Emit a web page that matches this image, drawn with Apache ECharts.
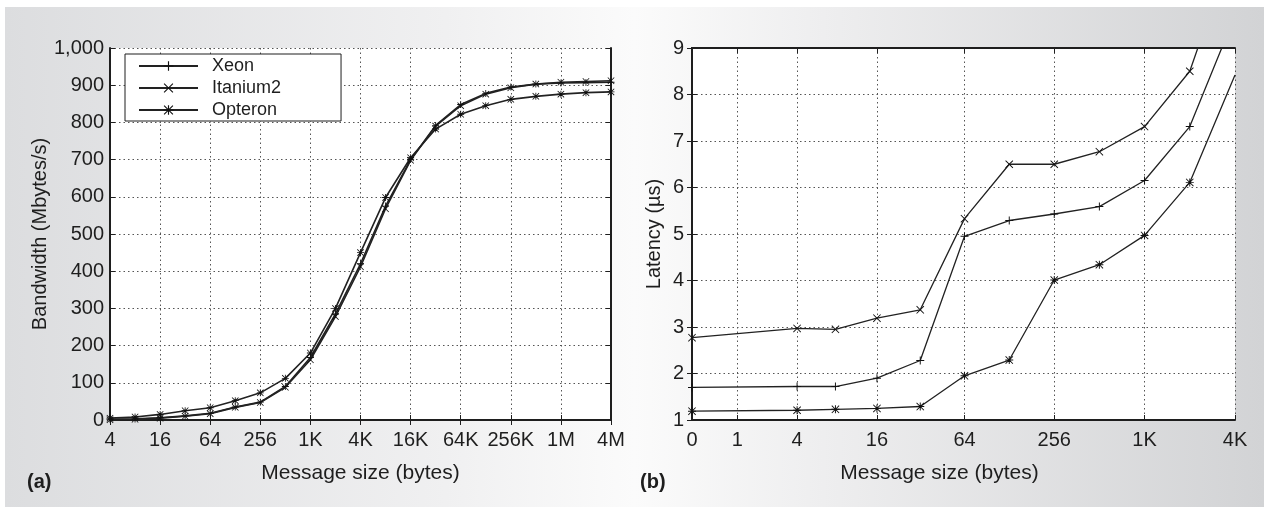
<!DOCTYPE html>
<html>
<head>
<meta charset="utf-8">
<script src="https://cdn.jsdelivr.net/npm/echarts@6/dist/echarts.min.js"></script>
<style>
  html, body { margin: 0; padding: 0; background: #ffffff; }
  #bg { position: absolute; left: 5px; top: 7px; width: 1259px; height: 500px;
        background: linear-gradient(to right, #dcdddf 0%, #f0f0f1 35%, #fbfbfb 50%, #eeeeef 65%, #d2d3d5 100%); }
  #chart { position: absolute; left: 0; top: 0; width: 1264px; height: 514px; }
</style>
</head>
<body>
<div id="bg"></div>
<div id="chart"></div>
<script>
// ---- Panel (a): bandwidth ----
const bwSizes = ['4','8','16','32','64','128','256','512','1K','2K','4K','8K','16K','32K','64K','128K','256K','512K','1M','2M','4M'];
const bwXeon     = [2, 3, 6, 11, 18, 35, 48, 90, 168, 285, 420, 575, 700, 792, 848, 878, 895, 903, 906, 907, 908];
const bwItanium2 = [1, 2, 5, 10, 17, 34, 47, 88, 162, 278, 412, 568, 698, 790, 845, 876, 893, 903, 908, 910, 912];
const bwOpteron  = [5, 8, 15, 25, 33, 52, 73, 112, 180, 300, 450, 598, 705, 782, 822, 845, 862, 870, 876, 880, 882];

// ---- Panel (b): latency ----
const latSizes     = [0, 4, 8, 16, 32, 64, 128, 256, 512, 1024, 2048, 4096];
const latXeon      = [1.70, 1.72, 1.72, 1.90, 2.28, 4.95, 5.29, 5.43, 5.59, 6.15, 7.31, 9.7];
const latItanium2  = [2.77, 2.97, 2.95, 3.19, 3.37, 5.33, 6.50, 6.50, 6.77, 7.31, 8.50, 11.3];
const latOpteron   = [1.19, 1.21, 1.23, 1.25, 1.29, 1.95, 2.29, 4.01, 4.34, 4.97, 6.11, 8.42];
const latTickSizes  = [0, 1, 4, 16, 64, 256, 1024, 4096];
const latTickLabels = ['0', '1', '4', '16', '64', '256', '1K', '4K'];

const seriesNames = ['Xeon', 'Itanium2', 'Opteron'];

// x position on the latency axis: log2(size + 1)
const lx = s => Math.log2(s + 1);
const latTickPos = latTickSizes.map(lx);
const latMax = lx(latTickSizes[latTickSizes.length - 1]);

const SYM_PLUS  = 'path://M0,4.4H10V5.6H0Z M4.4,0H5.6V10H4.4Z';
const SYM_CROSS = 'path://M0.8,0L5,4.2L9.2,0L10,0.8L5.8,5L10,9.2L9.2,10L5,5.8L0.8,10L0,9.2L4.2,5L0,0.8Z';
const SYM_STAR  = 'path://M0.8,0L5,4.2L9.2,0L10,0.8L5.8,5L10,9.2L9.2,10L5,5.8L0.8,10L0,9.2L4.2,5L0,0.8Z M0,4.4H10V5.6H0Z M4.4,0H5.6V10H4.4Z';
const symbols = [SYM_PLUS, SYM_CROSS, SYM_STAR];

const FONT = "'Liberation Sans', Arial, Helvetica, sans-serif";
const INK = '#1e1e1e';
const axisLineStyle = { show: true, lineStyle: { color: INK, width: 2 } };
const dotted = { show: true, lineStyle: { color: '#555', type: [1.5, 3], width: 1 } };
const tickIn = { show: true, inside: true, length: 5, lineStyle: { color: INK, width: 1 } };

const chart = echarts.init(document.getElementById('chart'), null, { renderer: 'canvas' });

const bwData = [bwXeon, bwItanium2, bwOpteron];
const latData = [latXeon, latItanium2, latOpteron];

const series = [];
seriesNames.forEach((n, i) => {
  series.push({
    name: n, type: 'line', xAxisIndex: 0, yAxisIndex: 0,
    data: bwData[i], symbol: symbols[i], symbolSize: 7, showAllSymbol: true,
    lineStyle: { color: '#222', width: 1.6 }, itemStyle: { color: '#111' },
    animation: false, z: 3
  });
});
seriesNames.forEach((n, i) => {
  series.push({
    name: n, type: 'line', xAxisIndex: 2, yAxisIndex: 2,
    data: latSizes.map((s, k) => [lx(s), latData[i][k]]),
    symbol: (val, params) => (params.dataIndex === latSizes.length - 1 ? 'none' : symbols[i]),
    symbolSize: 8, showAllSymbol: true, clip: true,
    lineStyle: { color: '#222', width: 1.3 }, itemStyle: { color: '#111' },
    animation: false, z: 3
  });
});

const option = {
  backgroundColor: 'transparent',
  animation: false,
  textStyle: { fontFamily: FONT, color: INK },
  grid: [
    { left: 110, top: 48, width: 501, height: 372, show: true, backgroundColor: '#ffffff', borderWidth: 0 },
    { left: 692, top: 48, width: 543, height: 372, show: true, backgroundColor: '#ffffff', borderWidth: 0 }
  ],
  legend: {
    data: seriesNames,
    orient: 'vertical', left: 125, top: 54,
    itemWidth: 59, itemHeight: 12, itemGap: 2,
    padding: [2, 60, 1, 13],
    borderColor: INK, borderWidth: 1, backgroundColor: '#ffffff',
    textStyle: { fontFamily: FONT, fontSize: 18, color: INK, padding: [0, 0, 0, 9], lineHeight: 20 },
    selectedMode: false
  },
  xAxis: [
    { type: 'category', gridIndex: 0, data: bwSizes, boundaryGap: false, position: 'bottom',
      axisLine: axisLineStyle, axisTick: Object.assign({ interval: 1 }, tickIn),
      axisLabel: { interval: 1, fontSize: 20, margin: 10, color: INK, fontFamily: FONT },
      splitLine: Object.assign({ interval: 1 }, dotted),
      name: 'Message size (bytes)', nameLocation: 'middle', nameGap: 43,
      nameTextStyle: { fontSize: 21, color: INK, fontFamily: FONT } },
    { type: 'category', gridIndex: 0, data: bwSizes, boundaryGap: false, position: 'top',
      axisLine: axisLineStyle, axisTick: Object.assign({ interval: 1 }, tickIn),
      axisLabel: { show: false }, splitLine: { show: false } },
    { type: 'value', gridIndex: 1, min: 0, max: latMax, position: 'bottom',
      axisLine: axisLineStyle,
      axisTick: Object.assign({ customValues: latTickPos }, tickIn),
      axisLabel: { customValues: latTickPos, fontSize: 20, margin: 10, color: INK, fontFamily: FONT,
        formatter: v => { let best = 0; latTickPos.forEach((p, i) => { if (Math.abs(p - v) < Math.abs(latTickPos[best] - v)) best = i; }); return latTickLabels[best]; } },
      splitLine: dotted,
      name: 'Message size (bytes)', nameLocation: 'middle', nameGap: 43,
      nameTextStyle: { fontSize: 21, color: INK, fontFamily: FONT, padding: [0, 48, 0, 0] } },
    { type: 'value', gridIndex: 1, min: 0, max: latMax, position: 'top',
      axisLine: axisLineStyle,
      axisTick: Object.assign({ customValues: latTickPos }, tickIn),
      axisLabel: { show: false }, splitLine: { show: false } }
  ],
  yAxis: [
    { type: 'value', gridIndex: 0, min: 0, max: 1000, interval: 100, position: 'left',
      axisLine: axisLineStyle, axisTick: tickIn,
      axisLabel: { fontSize: 20, margin: 6, color: INK, fontFamily: FONT, formatter: v => v.toLocaleString('en-US') },
      splitLine: dotted,
      name: 'Bandwidth (Mbytes/s)', nameLocation: 'middle', nameGap: 47,
      nameTextStyle: { fontSize: 20, color: INK, fontFamily: FONT } },
    { type: 'value', gridIndex: 0, min: 0, max: 1000, interval: 100, position: 'right',
      axisLine: axisLineStyle, axisTick: tickIn, axisLabel: { show: false }, splitLine: { show: false } },
    { type: 'value', gridIndex: 1, min: 1, max: 9, interval: 1, position: 'left',
      axisLine: axisLineStyle, axisTick: tickIn,
      axisLabel: { fontSize: 20, margin: 8, color: INK, fontFamily: FONT },
      splitLine: dotted,
      name: 'Latency (\u00b5s)', nameLocation: 'middle', nameGap: 28,
      nameTextStyle: { fontSize: 20, color: INK, fontFamily: FONT } },
    { type: 'value', gridIndex: 1, min: 1, max: 9, interval: 1, position: 'right',
      axisLine: axisLineStyle, axisTick: tickIn, axisLabel: { show: false }, splitLine: { show: false } }
  ],
  graphic: [
    { type: 'text', left: 27, top: 472, style: { text: '(a)', font: "bold 20px " + FONT, fill: INK } },
    { type: 'text', left: 640, top: 472, style: { text: '(b)', font: "bold 20px " + FONT, fill: INK } }
  ],
  series: series
};
chart.setOption(option);
</script>
</body>
</html>
